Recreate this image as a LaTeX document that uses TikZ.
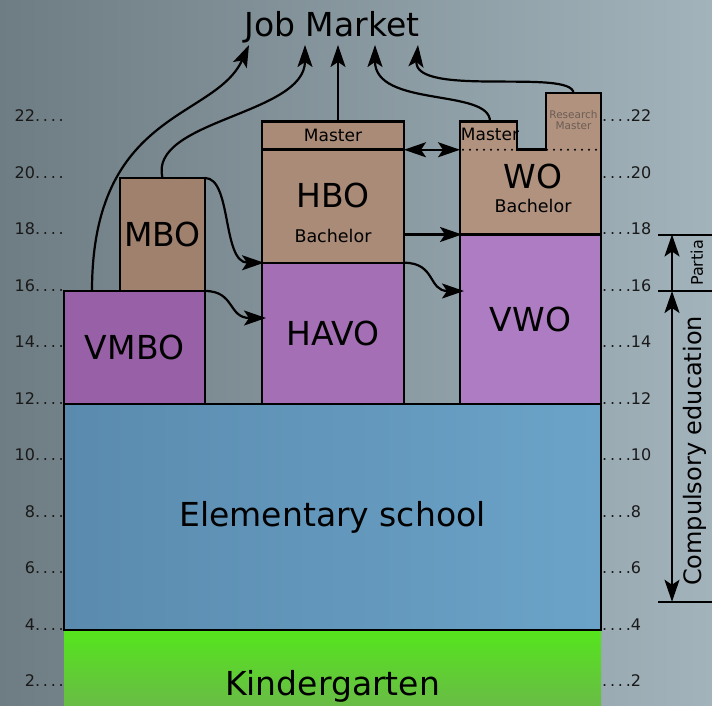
\documentclass[tikz,border=0pt]{standalone}
\usepackage{fontspec}
\setmainfont{DejaVu Sans}
\usetikzlibrary{arrows.meta,calc}
\definecolor{bgL}{HTML}{6E7C83}
\definecolor{bgR}{HTML}{A2B3BB}
\definecolor{purA}{HTML}{9861A7}
\definecolor{purB}{HTML}{A46FB5}
\definecolor{purC}{HTML}{AD7CC2}
\definecolor{brnA}{HTML}{9F816E}
\definecolor{brnB}{HTML}{A98B77}
\definecolor{brnC}{HTML}{B0927E}
\definecolor{bluL}{HTML}{5A8BAE}
\definecolor{bluR}{HTML}{6BA3C8}
\definecolor{grnT}{HTML}{55E51C}
\definecolor{grnB}{HTML}{72A85A}
\definecolor{resc}{HTML}{6C5D55}
\newcommand{\dts}{.\kern2.8pt.\kern2.8pt.\kern2.8pt.}
\newcommand{\bigf}{\fontsize{33}{38}\selectfont}
\newcommand{\midf}{\fontsize{17.5}{20}\selectfont}
\begin{document}
\begin{tikzpicture}[x=1pt,y=-1pt,
  box/.style={draw=black, line width=2.5pt, inner sep=0pt, outer sep=0pt, anchor=north west, font=\bigf},
  txt/.style={inner sep=0pt, font=\bigf},
  small/.style={inner sep=0pt, font=\midf},
  agel/.style={inner sep=0pt, font=\fontsize{16}{18}\selectfont, text=black!90},
  arr/.style={line width=2.2pt, -{Stealth[length=22pt,width=15pt,inset=5pt]}},
  darr/.style={line width=2.2pt, {Stealth[length=22pt,width=15pt,inset=5pt]}-{Stealth[length=22pt,width=15pt,inset=5pt]}},
  bar/.style={line width=2pt}]
\useasboundingbox (0,0) rectangle (712,706);
\clip (0,0) rectangle (712,706);
\shade[left color=bgL, right color=bgR] (0,0) rectangle (712,706);

% age labels
\foreach \a in {2,4,...,22} {
  \pgfmathsetmacro\yy{404-(\a-12)*28.25}
  \node[agel, anchor=base east] (L\a) at (64,\yy) {\a\dts};
  \node[agel, anchor=base west] (R\a) at (602,\yy) {\dts\a};
}

% kindergarten and elementary
\node[box, draw=none, top color=grnT, bottom color=grnB, minimum width=537pt, minimum height=112pt] (kind) at (64,630) {Kindergarten};
\node[box, left color=bluL, right color=bluR, minimum width=537pt, minimum height=226pt] (elem) at (64,404) {Elementary school};

% VMBO / MBO
\node[box, fill=purA, minimum width=141pt, minimum height=113pt] (vmbo) at (64,291) {VMBO};
\node[box, fill=brnA, minimum width=85pt, minimum height=113pt] (mbo) at (120,178) {MBO};

% HAVO / HBO
\node[box, fill=purB, minimum width=142pt, minimum height=141.25pt] (havo) at (262,262.75) {HAVO};
\node[box, fill=brnB, minimum width=142pt, minimum height=113pt] (hbo) at (262,149.75) {};
\node[box, fill=brnB, minimum width=142pt, minimum height=28.25pt, font=\fontsize{17}{18}\selectfont] (hbom) at (262,121.5) {Master};
\node[txt] (hbot) at (333,195) {HBO};
\node[small] (hbob) at (333,236) {Bachelor};

% WO / VWO
\draw[line width=2.5pt, fill=brnC] (460,234.5) -- (460,121.5) -- (517,121.5) -- (517,149.75)
  -- (546,149.75) -- (546,93.25) -- (601,93.25) -- (601,234.5) -- cycle;
\draw[line width=2.4pt, line cap=round, dash pattern=on 0pt off 7pt] (463,149.75) -- (600,149.75);
\node[box, fill=purC, minimum width=141pt, minimum height=169.5pt] (vwo) at (460,234.5) {VWO};
\node[txt] (wot) at (533,176) {WO};
\node[small] (wob) at (533,206) {Bachelor};
\node[inner sep=0pt, font=\fontsize{17}{18}\selectfont] (wom) at (490,134) {Master};
\node[inner sep=0pt, align=center, text=resc, font=\fontsize{10.5}{10.5}\selectfont] (wor) at (573.5,120) {Research\\Master};
\coordinate (womtop) at (490,121.5);
\coordinate (wortop) at (573.5,93.25);
\coordinate (womleft) at (460,149.75);
\coordinate (wobleft) at (460,234.5);

% Job market
\node[inner sep=0pt, anchor=base, font=\fontsize{33}{38}\selectfont] (job) at (332,37) {Job Market};
\coordinate (j1) at (249,45);
\coordinate (j2) at (305,45);
\coordinate (j3) at (338,45);
\coordinate (j4) at (375,45);
\coordinate (j5) at (418,45);

\draw[arr] ([xshift=28pt]vmbo.north west) .. controls (92,110) and (215,120) .. (j1);
\draw[arr] (mbo.north) .. controls (148,120) and (305,115) .. (j2);
\draw[arr] ([xshift=5pt]hbom.north) -- (j3);
\draw[arr] (womtop) .. controls (490,88) and (375,108) .. (j4);
\draw[arr] (wortop) .. controls (573,68) and (413,98) .. (j5);

% horizontal transfers
\draw[arr] (mbo.north east) .. controls (232,178) and (222,262.75) .. ([xshift=2pt]hbo.south west);
\draw[arr] (vmbo.north east) .. controls (235,291) and (228,318) .. ([xshift=4pt,yshift=-55.25pt]havo.north west);
\draw[arr] ([yshift=28.25pt]hbo.south east) -- ([xshift=2pt]wobleft);
\draw[arr] (havo.north east) .. controls (436,262.75) and (428,291) .. ([xshift=4pt,yshift=-56.5pt]vwo.north west);
\draw[darr] (hbom.south east) -- (womleft);

% compulsory / partial
\coordinate (b18) at (658,234.5);
\coordinate (b16) at (658,291);
\coordinate (b5) at (658,601.75);
\coordinate (a18) at (672,234.5);
\coordinate (a16) at (672,291);
\coordinate (a5) at (672,601.75);
\draw[bar] (b18) -- +(60,0);
\draw[bar] (b16) -- +(60,0);
\draw[bar] (b5) -- +(60,0);
\draw[arr] (a16) -- (a18);
\draw[darr] (a5) -- (a16);
\node[rotate=90, inner sep=0pt, font=\fontsize{24}{28}\selectfont] (comp) at (695,451) {Compulsory education};
\node[rotate=90, inner sep=0pt, font=\fontsize{16}{19}\selectfont] (part) at (697,263) {Partia};
\end{tikzpicture}
\end{document}
